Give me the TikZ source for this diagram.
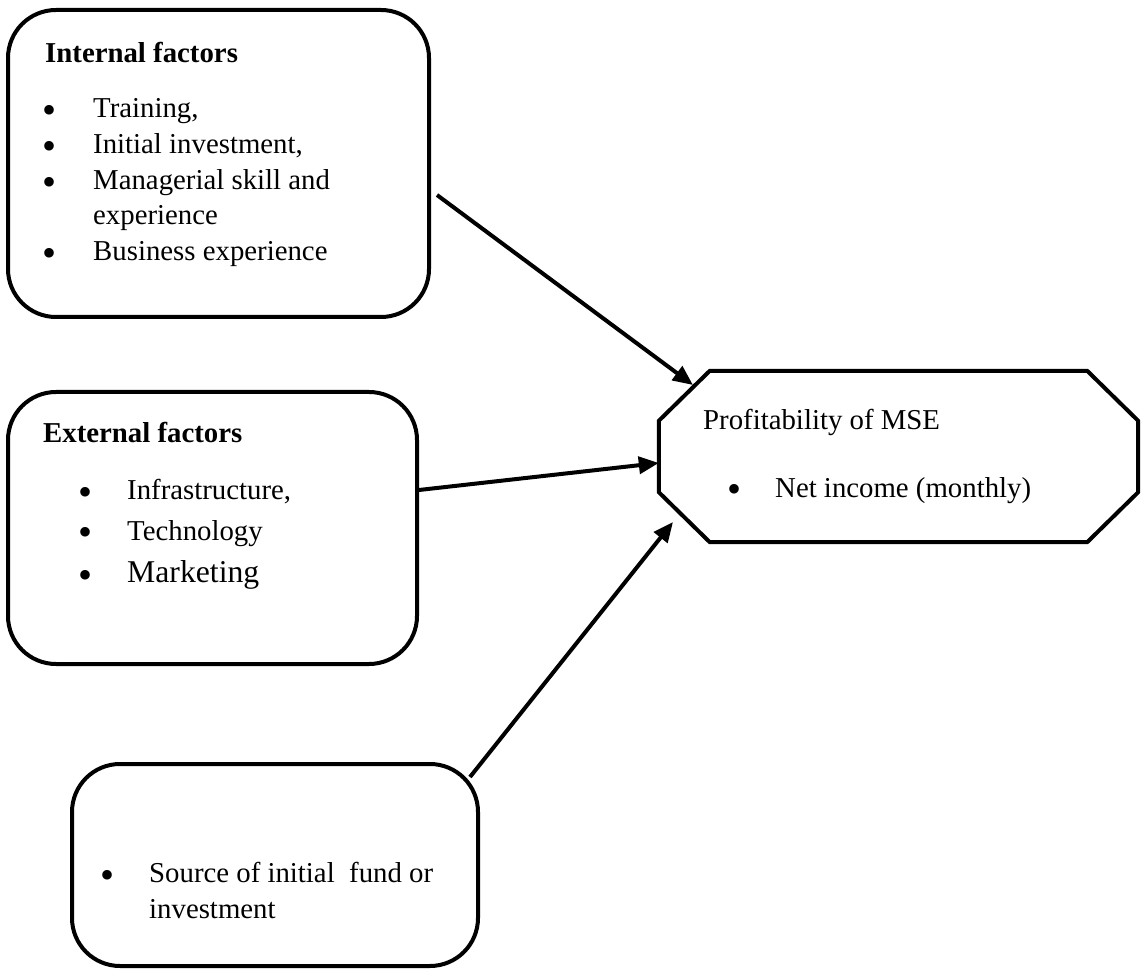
\documentclass[tikz,border=0pt]{standalone}
\usepackage{fontspec}
\setmainfont{Liberation Serif}
\usetikzlibrary{arrows.meta,calc}
\begin{document}
\begin{tikzpicture}[x=1pt,y=-1pt,
  box/.style={draw, line width=4pt, rounded corners=48pt, inner sep=0pt},
  txt/.style={anchor=base west, inner sep=0pt, font=\fontsize{28.8}{36}\selectfont},
  ttl/.style={anchor=base west, inner sep=0pt, font=\fontsize{28.8}{36}\selectfont\bfseries},
  bul/.style={anchor=base, inner sep=0pt, yshift=-6pt, font=\fontsize{40}{36}\selectfont},
  conn/.style={line width=4pt, -{Triangle[length=20pt,width=17pt]}}]
\useasboundingbox (0,0) rectangle (1144,973);

% boxes
\node[box, minimum width=421pt, minimum height=307pt] (internal) at (218.5,163.5) {};
\node[box, minimum width=409pt, minimum height=272pt] (external) at (212.5,528) {};
\node[box, minimum width=406pt, minimum height=202pt] (source) at (275,865) {};
\node[inner sep=0pt, minimum width=479pt, minimum height=171pt] (prof) at (898.5,456.5) {};
\draw[line width=4pt, line join=miter]
  ($(prof.north west)+(51,0)$) -- ($(prof.north east)+(-51,0)$)
  -- ($(prof.north east)+(0,50)$) -- ($(prof.south east)+(0,-50)$)
  -- ($(prof.south east)+(-51,0)$) -- ($(prof.south west)+(51,0)$)
  -- ($(prof.south west)+(0,-50)$) -- ($(prof.north west)+(0,50)$) -- cycle;

% internal factors
\node[ttl] (t1) at (45,63) {Internal factors};
\node[bul] (b11) at (50,118) {\textbullet};
\node[txt] (i1) at (93,118) {Training,};
\node[bul] (b12) at (50,154) {\textbullet};
\node[txt] (i2) at (93,154) {Initial investment,};
\node[bul] (b13) at (50,190) {\textbullet};
\node[txt] (i3) at (93,190) {Managerial skill and};
\node[txt] (i3b) at (93,225) {experience};
\node[bul] (b14) at (50,261) {\textbullet};
\node[txt] (i4) at (93,261) {Business experience};

% external factors
\node[ttl] (t2) at (43,443) {External factors};
\node[bul] (b21) at (86,500) {\textbullet};
\node[txt] (e1) at (127,500) {Infrastructure,};
\node[bul] (b22) at (86,540) {\textbullet};
\node[txt] (e2) at (127,540) {Technology};
\node[bul] (b23) at (86,582) {\textbullet};
\node[txt, font=\fontsize{31.7}{38}\selectfont] (e3) at (127,582) {Marketing};

% source
\node[bul] (b31) at (108,882) {\textbullet};
\node[txt] (s1) at (149,882) {Source of initial\ \ fund or};
\node[txt] (s1b) at (149,918) {investment};

% profitability
\node[txt] (p1) at (703,430) {Profitability of MSE};
\node[bul] (b41) at (734,497) {\textbullet};
\node[txt] (p2) at (775,497) {Net income (monthly)};

% connectors
\coordinate (a1s) at (437,195);
\coordinate (a1e) at (693,385);
\coordinate (a3s) at (470,777);
\coordinate (a3e) at (673,522);
\draw[conn] (a1s) -- (a1e);
\draw[conn] ($(external.east)+(0,-38)$) -- ($(prof.west)+(0,6.5)$);
\draw[conn] (a3s) -- (a3e);
\end{tikzpicture}
\end{document}
